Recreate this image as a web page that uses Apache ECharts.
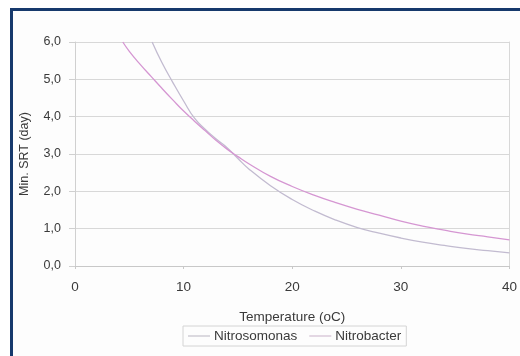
<!DOCTYPE html>
<html>
<head>
<meta charset="utf-8">
<script src="https://cdn.jsdelivr.net/npm/echarts@6/dist/echarts.min.js"></script>
<style>
  html, body { margin: 0; padding: 0; background: #ffffff; }
  .frame {
    position: absolute; left: 10px; top: 8px; width: 530px; height: 370px;
    border: 3px solid #16396c; background: #fdfdfd;
  }
  #chart { position: absolute; left: 0; top: 0; width: 520px; height: 356px; }
</style>
</head>
<body>
<div class="frame"></div>
<div id="chart"></div>
<script>
  // temperatures (oC) and min. SRT (day)
  var nitrosomonasT = [7.1, 8, 9, 10, 11, 12, 13, 14, 15, 16, 18, 20, 22, 24, 26, 28, 30, 32, 34, 36, 38, 40]
  var nitrosomonasSrt = [6.0, 5.45, 4.92, 4.42, 3.96, 3.66, 3.4, 3.17, 2.88, 2.6, 2.15, 1.78, 1.48, 1.23, 1.03, 0.88, 0.75, 0.64, 0.55, 0.47, 0.41, 0.35]
  var nitrobacterT = [4.4, 5, 6, 7, 8, 9, 10, 11, 12, 13, 14, 15, 16, 18, 20, 22, 24, 26, 28, 30, 32, 34, 36, 38, 40]
  var nitrobacterSrt = [6.0, 5.75, 5.4, 5.08, 4.76, 4.45, 4.15, 3.88, 3.62, 3.36, 3.13, 2.93, 2.74, 2.4, 2.13, 1.9, 1.7, 1.52, 1.36, 1.2, 1.07, 0.96, 0.86, 0.78, 0.7]
  var seriesNames = ['Nitrosomonas', 'Nitrobacter']

  function pairs(xs, ys) {
    return xs.map(function (x, i) { return [x, ys[i]] })
  }

  var myChart = echarts.init(document.getElementById('chart'))
  myChart.setOption({
    backgroundColor: 'transparent',
    animation: false,
    textStyle: { fontFamily: 'Liberation Sans, Arial, sans-serif' },
    grid: { left: 75, right: 6, top: 42, bottom: 90 },
    legend: {
      data: seriesNames,
      left: 183,
      top: 326,
      itemWidth: 22,
      itemHeight: 1,
      itemGap: 12,
      padding: [3, 5, 3, 5],
      borderColor: '#d4d4d4',
      borderWidth: 1,
      icon: 'rect',
      textStyle: { color: '#3a3a3a', fontSize: 13.5, padding: [0, 0, 0, -1] }
    },
    xAxis: {
      type: 'value',
      min: 0,
      max: 40,
      interval: 10,
      name: 'Temperature (oC)',
      nameLocation: 'middle',
      nameGap: 44,
      nameTextStyle: { color: '#3a3a3a', fontSize: 13.5 },
      axisLine: { lineStyle: { color: '#c8c8c8' } },
      axisTick: { show: true, length: 3, lineStyle: { color: '#c8c8c8' } },
      axisLabel: { color: '#3a3a3a', fontSize: 13.5, margin: 14 },
      splitLine: { show: false }
    },
    yAxis: [
      {
        type: 'value',
        min: 0,
        max: 6,
        interval: 1,
        name: 'Min. SRT (day)',
        nameLocation: 'middle',
        nameGap: 44,
        nameTextStyle: { color: '#3a3a3a', fontSize: 12.5 },
        axisLine: { show: true, lineStyle: { color: '#d0d0d0' } },
        axisTick: { show: true, length: 6, lineStyle: { color: '#d0d0d0' } },
        axisLabel: {
          color: '#3a3a3a',
          fontSize: 12.5,
          margin: 14,
          formatter: function (v) { return v.toFixed(1).replace('.', ',') }
        },
        splitLine: { lineStyle: { color: '#d8d8d8', width: 1 } }
      },
      {
        type: 'value',
        min: 0,
        max: 6,
        interval: 1,
        position: 'right',
        axisLine: { show: true, lineStyle: { color: '#d8d8d8' } },
        axisTick: { show: false },
        axisLabel: { show: false },
        splitLine: { show: false }
      }
    ],
    series: [
      {
        name: seriesNames[0],
        type: 'line',
        smooth: true,
        symbol: 'none',
        lineStyle: { color: '#c2bbd0', width: 1.3 },
        itemStyle: { color: '#b8b4c0' },
        data: pairs(nitrosomonasT, nitrosomonasSrt)
      },
      {
        name: seriesNames[1],
        type: 'line',
        smooth: true,
        symbol: 'none',
        lineStyle: { color: '#d596d2', width: 1.3 },
        itemStyle: { color: '#c8b0c8' },
        data: pairs(nitrobacterT, nitrobacterSrt)
      }
    ]
  })
</script>
</body>
</html>
